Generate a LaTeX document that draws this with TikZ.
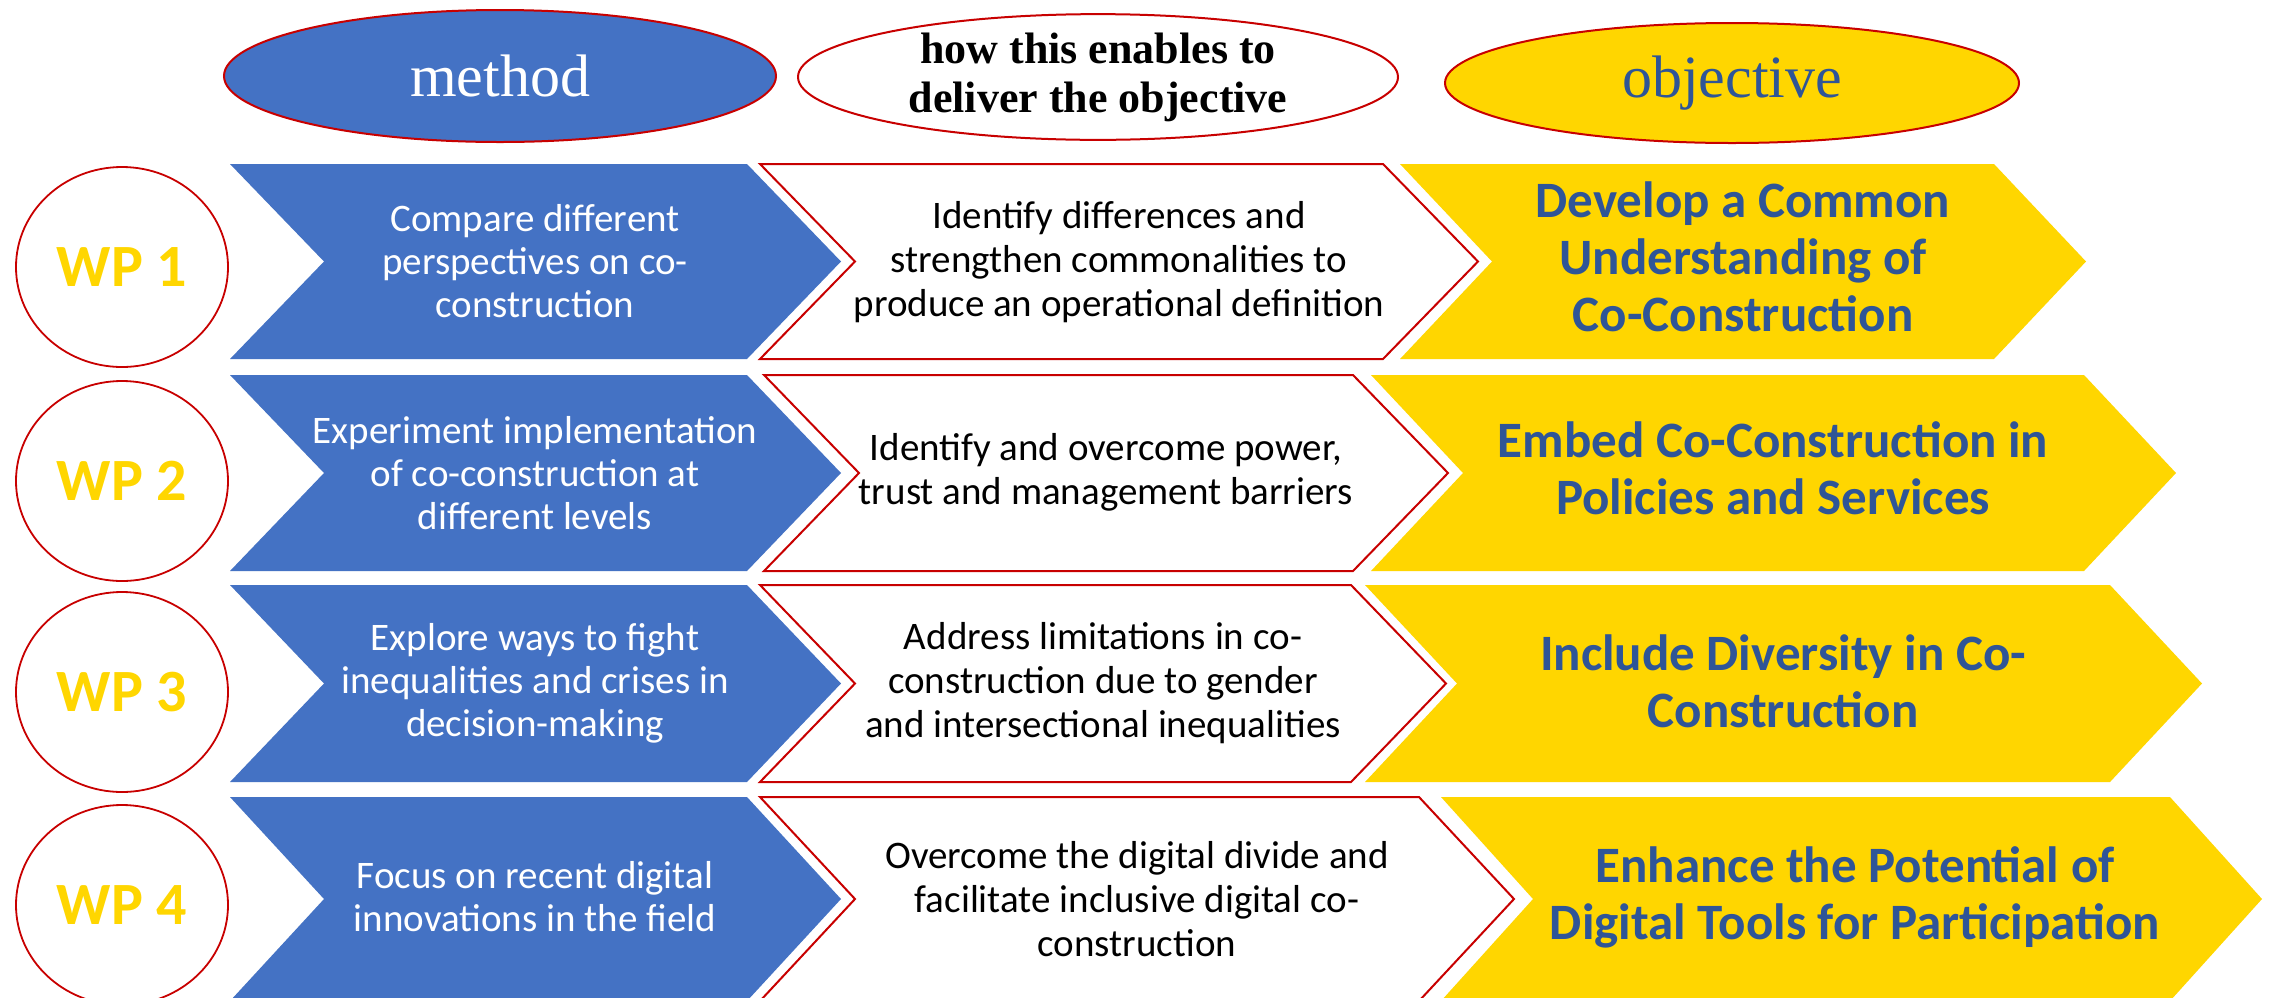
\documentclass[tikz,border=0pt]{standalone}
\usepackage{fontspec}
\setmainfont{Carlito}
\newfontfamily\headfont{Liberation Serif}
\usepackage{tikz}
\usetikzlibrary{shapes.geometric}
\definecolor{wpblue}{HTML}{4472C4}
\definecolor{wpgold}{HTML}{FFD600}
\definecolor{wpnavy}{HTML}{2F5597}
\definecolor{wpred}{HTML}{C80000}
% style, left, corner, top, bottom, depth
\newcommand{\wpchevron}[6]{\path[#1] (#2,#4) -- (#3,#4) -- ({#3+#6},{(#4+#5)/2}) -- (#3,#5) -- (#2,#5) -- ({#2+#6},{(#4+#5)/2}) -- cycle;}

\begin{document}
\begin{tikzpicture}[x=0.5pt, y=-0.5pt,
	methodtext/.style={text=white, align=center, font=\fontsize{19.5}{21.5}\selectfont},
	howtext/.style={text=black, align=center, font=\fontsize{19.5}{22}\selectfont},
	objtext/.style={text=wpnavy, align=center, font=\bfseries\fontsize{25.5}{28.5}\selectfont},
	wpcircle/.style={ellipse, draw=wpred, line width=0.9pt, fill=white, minimum width=106pt, minimum height=100pt, inner sep=0pt, text=wpgold, font=\bfseries\fontsize{30}{30}\selectfont},
	header/.style={ellipse, draw=wpred, line width=1pt, inner sep=0pt, align=center},
	bluechev/.style={fill=wpblue},
	whitechev/.style={fill=white, draw=wpred, line width=1pt},
	goldchev/.style={fill=wpgold}]
		\path[use as bounding box, fill=white] (0,0) rectangle (2282,997);

		\node[header, fill=wpblue, minimum width=276pt, minimum height=66pt, text=white,
			font=\headfont\fontsize{30}{30}\selectfont] (hmethod) at (500,76) {method};
		\node[header, fill=white, minimum width=300pt, minimum height=62pt,
			font=\headfont\bfseries\fontsize{22}{24.5}\selectfont] (hhow) at (1098,77)
			{how this enables to\\deliver the objective};
		\node[header, fill=wpgold, minimum width=287pt, minimum height=60pt, text=wpnavy,
			font=\headfont\fontsize{30}{30}\selectfont] (hobj) at (1732,83) {objective};

		\wpchevron{bluechev}{230}{747}{164}{359}{94}
		\wpchevron{bluechev}{230}{747}{375}{571}{94}
		\wpchevron{bluechev}{230}{747}{585}{782}{94}
		\wpchevron{bluechev}{230}{747}{797}{1001}{94}

		\wpchevron{whitechev}{760}{1383}{164}{359}{95}
		\wpchevron{whitechev}{764}{1353}{375}{571}{95}
		\wpchevron{whitechev}{760}{1351}{585}{782}{95}
		\wpchevron{whitechev}{760}{1419}{797}{1001}{95}

		\wpchevron{goldchev}{1400}{1994}{164}{359}{92}
		\wpchevron{goldchev}{1371}{2084}{375}{571}{92}
		\wpchevron{goldchev}{1365}{2110}{585}{782}{92}
		\wpchevron{goldchev}{1441}{2170}{797}{1001}{92}

		\node[wpcircle] (wp1) at (122,267) {WP 1};
		\node[wpcircle] (wp2) at (122,481) {WP 2};
		\node[wpcircle] (wp3) at (122,692) {WP 3};
		\node[wpcircle] (wp4) at (122,905) {WP 4};

		\node[methodtext] (m1) at (535,261)
			{Compare different\\perspectives on co-\\construction};
		\node[methodtext] (m2) at (535,473)
			{Experiment implementation\\of co-construction at\\different levels};
		\node[methodtext] (m3) at (535,683)
			{Explore ways to fight\\inequalities and crises in\\decision-making};
		\node[methodtext] (m4) at (535,897)
			{Focus on recent digital\\innovations in the field};

		\node[howtext] (h1) at (1119,262)
			{Identify differences and\\strengthen commonalities to\\produce an operational definition};
		\node[howtext] (h2) at (1106,472)
			{Identify and overcome power,\\trust and management barriers};
		\node[howtext] (h3) at (1103,683)
			{Address limitations in co-\\construction due to gender\\and intersectional inequalities};
		\node[howtext] (h4) at (1137,899)
			{Overcome the digital divide and\\facilitate inclusive digital co-\\construction};

		\node[objtext] (o1) at (1743,257)
			{Develop a Common\\Understanding of\\Co-Construction};
		\node[objtext] (o2) at (1773,468)
			{Embed Co-Construction in\\Policies and Services};
		\node[objtext] (o3) at (1783,681)
			{Include Diversity in Co-\\Construction};
		\node[objtext] (o4) at (1855,897)
			{Enhance the Potential of\\Digital Tools for Participation};
	\end{tikzpicture}
\end{document}
